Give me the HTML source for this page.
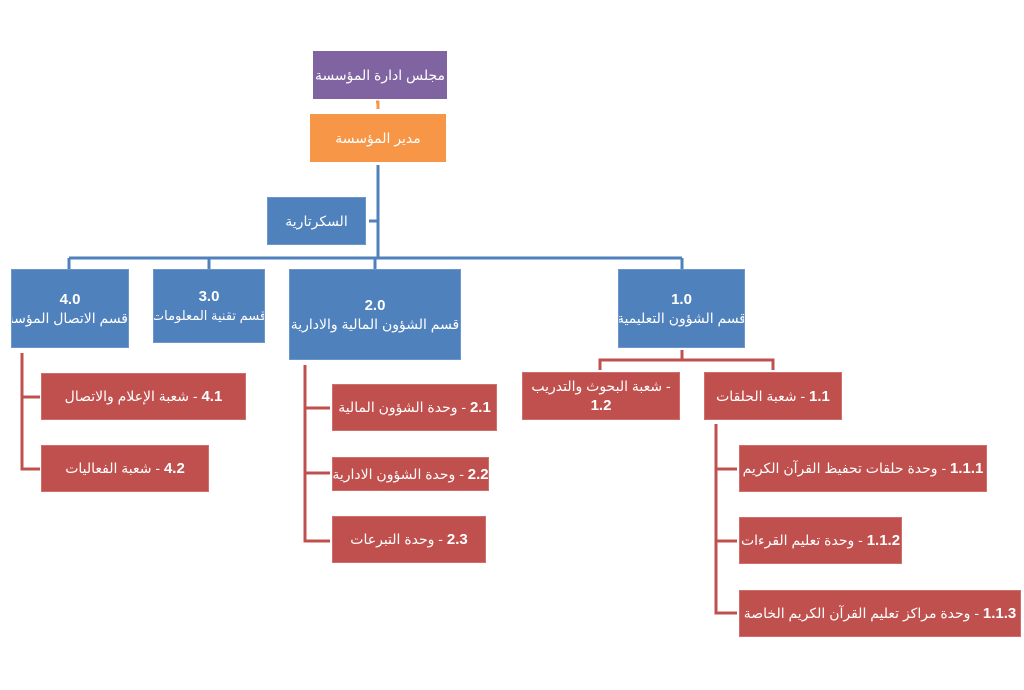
<!DOCTYPE html>
<html><head><meta charset="utf-8">
<style>
html,body{margin:0;padding:0;background:#fff;width:1024px;height:690px;overflow:hidden}
.b{position:absolute;box-sizing:border-box;color:#fff;font-family:"Liberation Sans","DejaVu Sans",sans-serif;font-size:14px;display:flex;flex-direction:column;align-items:center;justify-content:center;text-align:center;direction:rtl;line-height:19px;white-space:nowrap;overflow:hidden}
.bl{background:#4F81BD;border:1px solid #6c96cc}
.rd{background:#C0504D;border:1px solid #cf6e6b}
.n{font-weight:bold;font-size:15px;direction:ltr}
</style></head><body>
<svg width="1024" height="690" style="position:absolute;left:0;top:0">
<g stroke="#4F81BD" stroke-width="3" fill="none">
<path d="M378 165 V258"/><path d="M378 221 H369"/>
<path d="M69 258 H682"/>
<path d="M69 258 V269 M209 258 V269 M375 258 V269 M682 258 V269"/>
</g>
<path d="M378 101 V109 M376 102 H379" stroke="#F79646" stroke-width="3" fill="none"/>
<g stroke="#C0504D" stroke-width="3" fill="none">
<path d="M682 350 V360 M600 370 V360 H773 V370"/>
<path d="M716 424 V613 H737 M716 469 H737 M716 541 H737"/>
<path d="M305 365 V541 H330 M305 408 H330 M305 473 H330"/>
<path d="M22 353 V469 H40 M22 397 H40"/>
</g>
</svg>
<div class="b" style="left:313px;top:51px;width:134px;height:48px;background:#8064A2">مجلس ادارة المؤسسة</div>
<div class="b" style="left:310px;top:114px;width:136px;height:48px;background:#F79646">مدير المؤسسة</div>
<div class="b bl" style="left:267px;top:197px;width:99px;height:48px">السكرتارية</div>
<div class="b bl" style="left:11px;top:269px;width:118px;height:79px;align-items:flex-start"><span class="n" style="align-self:center">4.0</span><span>قسم الاتصال المؤسسي</span></div>
<div class="b bl" style="left:153px;top:269px;width:112px;height:74px;font-size:13px"><span class="n">3.0</span><span>قسم تقنية المعلومات</span></div>
<div class="b bl" style="left:289px;top:269px;width:172px;height:91px"><span class="n">2.0</span><span>قسم الشؤون المالية  والادارية</span></div>
<div class="b bl" style="left:618px;top:269px;width:127px;height:79px"><span class="n">1.0</span><span>قسم الشؤون التعليمية</span></div>
<div class="b rd" style="left:522px;top:372px;width:158px;height:48px"><span>- شعبة البحوث والتدريب</span><span class="n">1.2</span></div>
<div class="b rd" style="left:704px;top:372px;width:138px;height:48px"><span><b class="n">1.1</b> - شعبة الحلقات</span></div>
<div class="b rd" style="left:739px;top:445px;width:248px;height:47px"><span><b class="n">1.1.1</b> - وحدة حلقات تحفيظ القرآن الكريم</span></div>
<div class="b rd" style="left:739px;top:517px;width:163px;height:47px"><span><b class="n">1.1.2</b> - وحدة تعليم القرءات</span></div>
<div class="b rd" style="left:739px;top:590px;width:282px;height:47px"><span><b class="n">1.1.3</b> - وحدة مراكز تعليم القرآن الكريم الخاصة</span></div>
<div class="b rd" style="left:332px;top:384px;width:165px;height:47px"><span><b class="n">2.1</b> - وحدة الشؤون المالية</span></div>
<div class="b rd" style="left:332px;top:457px;width:157px;height:34px"><span><b class="n">2.2</b> - وحدة الشؤون الادارية</span></div>
<div class="b rd" style="left:332px;top:516px;width:154px;height:47px"><span><b class="n">2.3</b> - وحدة التبرعات</span></div>
<div class="b rd" style="left:41px;top:373px;width:205px;height:47px"><span><b class="n">4.1</b> - شعبة الإعلام والاتصال</span></div>
<div class="b rd" style="left:41px;top:445px;width:168px;height:47px"><span><b class="n">4.2</b> - شعبة الفعاليات</span></div>
</body></html>
